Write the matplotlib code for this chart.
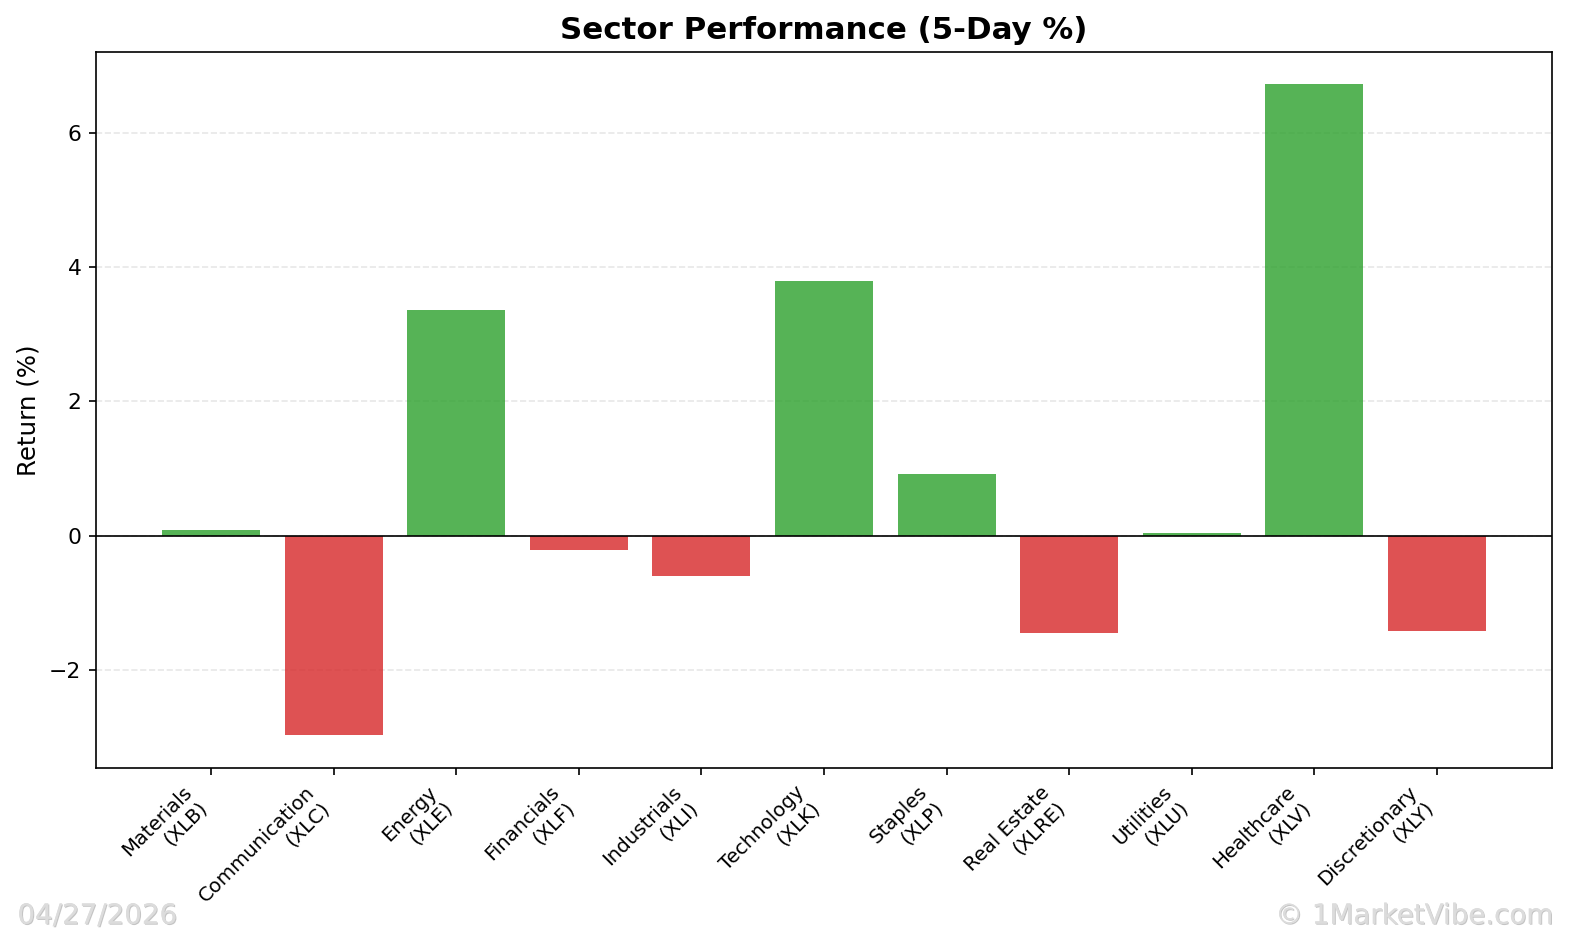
import matplotlib
matplotlib.use("Agg")
import matplotlib.pyplot as plt
import matplotlib.patheffects as pe

sectors = ["Materials", "Communication", "Energy", "Financials", "Industrials",
           "Technology", "Staples", "Real Estate", "Utilities", "Healthcare",
           "Discretionary"]
tickers = ["XLB", "XLC", "XLE", "XLF", "XLI", "XLK", "XLP", "XLRE", "XLU", "XLV", "XLY"]
returns = [0.09, -2.98, 3.36, -0.22, -0.60, 3.80, 0.92, -1.46, 0.04, 6.73, -1.43]
date_text = "04/27/2026"
credit_text = "\u00a9 1MarketVibe.com"

labels = [f"{s}\n({t})" for s, t in zip(sectors, tickers)]
colors = ["tab:green" if r >= 0 else "tab:red" for r in returns]

fig = plt.figure(figsize=(10.56, 6.2667), dpi=150)
ax = fig.add_axes([0.0606, 0.183, 0.9192, 0.762])

x = list(range(len(returns)))
ax.bar(x, returns, color=colors, alpha=0.8, width=0.8)
ax.axhline(0, color="black", linewidth=0.8)
ax.grid(axis="y", linestyle="--", alpha=0.3)
ax.set_axisbelow(True)
ax.set_xticks(x)
ax.set_xticklabels(labels, rotation=45, ha="right", fontsize=9.5)
ax.tick_params(axis="y", labelsize=10.5)
ax.set_ylabel("Return (%)", fontsize=11.7)
ax.set_title("Sector Performance (5-Day %)", fontsize=14.8, fontweight="bold")

effects = [pe.withSimplePatchShadow(offset=(0.5, -0.5), shadow_rgbFace="#8c8c8c", alpha=0.5),
           pe.Normal()]
fig.text(0.011, 0.011, date_text, fontsize=13.3, color="#dcdcdc", ha="left", va="bottom",
         path_effects=effects)
fig.text(0.981, 0.011, credit_text, fontsize=13.3, color="#dcdcdc", ha="right", va="bottom",
         path_effects=effects)

fig.savefig("out.png", dpi=150)
